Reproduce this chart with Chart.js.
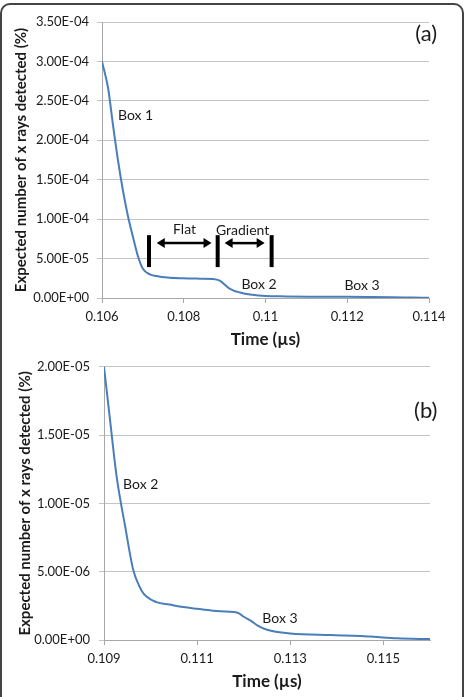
<!DOCTYPE html>
<html>
<head>
<meta charset="utf-8">
<script src="https://cdn.jsdelivr.net/npm/chart.js@4.4.0/dist/chart.umd.min.js"></script>
<style>
  body { margin: 0; background: #fff; width: 465px; height: 697px; overflow: hidden; position: relative; }
  canvas { position: absolute; left: 0; }
  #frame { position: absolute; left: 0; top: 3px; width: 464px; height: 760px; box-sizing: border-box;
           border: 2px solid #444; border-radius: 10px; pointer-events: none; }
</style>
</head>
<body>
<canvas id="chartA" width="465" height="350" style="top:0"></canvas>
<canvas id="chartB" width="465" height="347" style="top:350px"></canvas>
<div id="frame"></div>
<script>
// panel (a)
const timeA = [0.1060, 0.10615, 0.10627, 0.10639, 0.10651, 0.10663, 0.10676, 0.10688, 0.1070, 0.10717,
  0.10733, 0.1076, 0.10798, 0.1084, 0.10871, 0.10888, 0.10912, 0.10937, 0.10968, 0.1100,
  0.1105, 0.11115, 0.1120, 0.1126, 0.1131, 0.1136, 0.1140];
const countA = [3.0e-4, 2.66e-4, 2.19e-4, 1.75e-4, 1.37e-4, 1.05e-4, 7.7e-5, 5.3e-5, 3.7e-5, 3.0e-5,
  2.8e-5, 2.6e-5, 2.5e-5, 2.45e-5, 2.4e-5, 2.2e-5, 1.2e-5, 7e-6, 4e-6, 2.5e-6,
  2.0e-6, 1.7e-6, 1.5e-6, 1.2e-6, 0.9e-6, 0.5e-6, 0.2e-6];
const xTicksA = [0.106, 0.108, 0.110, 0.112, 0.114];
const yTicksA = [0, 5e-5, 1e-4, 1.5e-4, 2e-4, 2.5e-4, 3e-4, 3.5e-4];

// panel (b)
const timeB = [0.1090, 0.10913, 0.10927, 0.10945, 0.10963, 0.10975, 0.10985, 0.11013, 0.1104, 0.1107,
  0.1110, 0.11128, 0.1115, 0.11178, 0.1119, 0.1120, 0.11214, 0.1123, 0.1125, 0.1130,
  0.11386, 0.1145, 0.11479, 0.11529, 0.1160];
const countB = [2.0e-5, 1.61e-5, 1.2e-5, 8.4e-6, 5.1e-6, 4.0e-6, 3.4e-6, 2.77e-6, 2.6e-6, 2.41e-6,
  2.28e-6, 2.17e-6, 2.1e-6, 2.05e-6, 1.95e-6, 1.7e-6, 1.44e-6, 1.05e-6, 0.75e-6, 0.48e-6,
  0.36e-6, 0.3e-6, 0.24e-6, 0.12e-6, 0.07e-6];
const xTicksB = [0.109, 0.111, 0.113, 0.115];
const yTicksB = [0, 5e-6, 1e-5, 1.5e-5, 2e-5];

const FONT = 'Lato';
const INK = '#1a1a1a';
const LINE = '#4a7ebb';

function sciLabel(v) {
  if (v === 0) return '0.00E+00';
  const e = Math.floor(Math.log10(Math.abs(v)) + 1e-9);
  const m = v / Math.pow(10, e);
  return m.toFixed(2) + 'E' + (e < 0 ? '-' : '+') + String(Math.abs(e)).padStart(2, '0');
}

// texts, bars and arrows drawn in data space
const notesPlugin = {
  id: 'notes',
  afterDatasetsDraw(chart, args, opts) {
    const { ctx, scales: { x, y } } = chart;
    const px = v => x.getPixelForValue(v);
    const py = v => y.getPixelForValue(v);
    ctx.save();
    ctx.strokeStyle = '#000';
    ctx.fillStyle = '#000';
    (opts.bars || []).forEach(b => {
      ctx.lineWidth = 4;
      ctx.beginPath();
      ctx.moveTo(px(b.x), py(b.y0));
      ctx.lineTo(px(b.x), py(b.y1));
      ctx.stroke();
    });
    (opts.arrows || []).forEach(a => {
      const x0 = px(a.x0), x1 = px(a.x1), yy = py(a.y);
      const head = 8, half = 5;
      ctx.lineWidth = 2.5;
      ctx.beginPath();
      ctx.moveTo(x0 + head - 1, yy);
      ctx.lineTo(x1 - head + 1, yy);
      ctx.stroke();
      ctx.beginPath();
      ctx.moveTo(x0, yy); ctx.lineTo(x0 + head, yy - half); ctx.lineTo(x0 + head, yy + half); ctx.closePath();
      ctx.moveTo(x1, yy); ctx.lineTo(x1 - head, yy - half); ctx.lineTo(x1 - head, yy + half); ctx.closePath();
      ctx.fill();
    });
    ctx.fillStyle = INK;
    ctx.textBaseline = 'middle';
    (opts.texts || []).forEach(t => {
      ctx.font = (t.size || 14) + 'px ' + FONT;
      ctx.textAlign = t.align || 'left';
      ctx.fillText(t.text, px(t.x), py(t.y));
    });
    ctx.restore();
  }
};

function makeChart(id, xs, ys, o) {
  return new Chart(document.getElementById(id), {
    type: 'line',
    data: {
      datasets: [{
        data: xs.map((t, i) => ({ x: t, y: ys[i] })),
        borderColor: LINE,
        borderWidth: 2,
        pointRadius: 0,
        cubicInterpolationMode: 'monotone',
        fill: false
      }]
    },
    options: {
      responsive: false,
      animation: false,
      devicePixelRatio: 1,
      layout: { padding: { left: 0, right: o.padRight, top: o.padTop, bottom: 0 } },
      plugins: { legend: { display: false }, tooltip: { enabled: false }, notes: o.notes },
      scales: {
        x: {
          type: 'linear',
          min: o.xMin,
          max: o.xMax,
          afterBuildTicks: s => { s.ticks = o.xTicks.map(v => ({ value: v })); },
          afterFit: s => { s.height = o.xHeight; },
          ticks: {
            padding: o.xTickPad,
            maxRotation: 0,
            color: INK,
            font: { family: FONT, size: 13 },
            callback: v => String(parseFloat(v.toFixed(3)))
          },
          grid: { drawOnChartArea: false, drawTicks: true, tickLength: 5, color: '#a8a8a8' },
          border: { color: '#a8a8a8' },
          title: {
            display: true,
            text: 'Time (µs)',
            color: INK,
            font: { family: FONT, size: 17, weight: 'bold' },
            padding: { top: 0, bottom: o.xTitlePad }
          }
        },
        y: {
          min: 0,
          max: o.yTicks[o.yTicks.length - 1],
          afterBuildTicks: s => { s.ticks = o.yTicks.map(v => ({ value: v })); },
          afterFit: s => { s.width = o.yWidth; },
          ticks: {
            padding: o.yTickPad,
            color: INK,
            font: { family: FONT, size: 13 },
            callback: v => sciLabel(v)
          },
          grid: { color: '#c4c4c4', tickLength: 5 },
          border: { color: '#a8a8a8' },
          title: {
            display: true,
            text: 'Expected number of x rays detected (%)',
            color: INK,
            font: { family: FONT, size: 15, weight: 'bold' },
            padding: { top: o.yTitlePad, bottom: 0 }
          }
        }
      }
    },
    plugins: [notesPlugin]
  });
}

makeChart('chartA', timeA, countA, {
  xMin: 0.106, xMax: 0.114, xTicks: xTicksA, yTicks: yTicksA,
  padRight: 36, padTop: 22, xHeight: 52, yWidth: 102,
  xTickPad: 6, yTickPad: 8, xTitlePad: 0, yTitlePad: 12,
  notes: {
    bars: [
      { x: 0.10715, y0: 3.92e-5, y1: 7.97e-5 },
      { x: 0.10883, y0: 3.92e-5, y1: 7.97e-5 },
      { x: 0.11015, y0: 3.92e-5, y1: 7.97e-5 }
    ],
    arrows: [
      { x0: 0.10734, x1: 0.10868, y: 6.96e-5 },
      { x0: 0.10900, x1: 0.10998, y: 6.96e-5 }
    ],
    texts: [
      { text: 'Box 1', x: 0.10639, y: 2.32e-4 },
      { text: 'Flat', x: 0.10802, y: 8.73e-5, align: 'center' },
      { text: 'Gradient', x: 0.10944, y: 8.6e-5, align: 'center' },
      { text: 'Box 2', x: 0.10941, y: 1.77e-5 },
      { text: 'Box 3', x: 0.11193, y: 1.65e-5 },
      { text: '(a)', x: 0.1142, y: 3.35e-4, align: 'right', size: 22 }
    ]
  }
});

makeChart('chartB', timeB, countB, {
  xMin: 0.109, xMax: 0.116, xTicks: xTicksB, yTicks: yTicksB,
  padRight: 35, padTop: 13, xHeight: 57, yWidth: 104,
  xTickPad: 6, yTickPad: 9, xTitlePad: 5, yTitlePad: 16,
  notes: {
    texts: [
      { text: 'Box 2', x: 0.10941, y: 1.14e-5 },
      { text: 'Box 3', x: 0.1124, y: 1.59e-6 },
      { text: '(b)', x: 0.11616, y: 1.675e-5, align: 'right', size: 22 }
    ]
  }
});
</script>
</body>
</html>
